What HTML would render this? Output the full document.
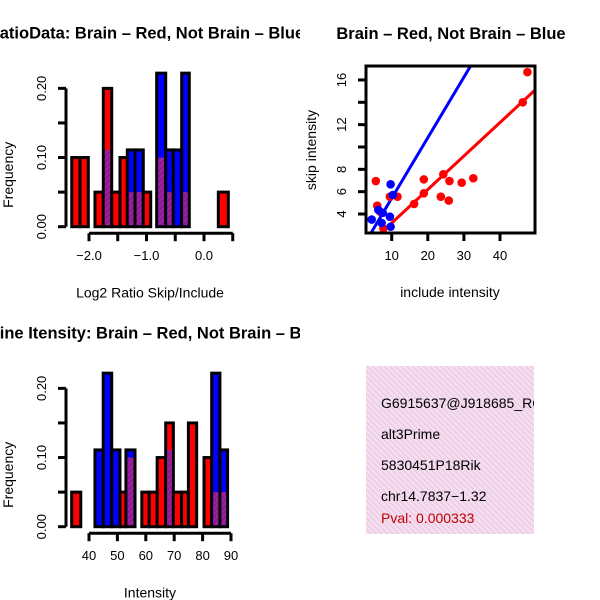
<!DOCTYPE html>
<html><head><meta charset="utf-8"><style>
body{margin:0;background:#fff}
svg{display:block;font-family:"Liberation Sans",sans-serif}
</style></head><body>
<svg id="c" width="600" height="600" viewBox="0 0 600 600">
<defs>
<pattern id="hatch" width="4" height="4" patternUnits="userSpaceOnUse" patternTransform="rotate(45)">
<rect width="4" height="4" fill="#a020a0"/><rect width="2" height="4" fill="#8a1a90"/></pattern>
<pattern id="pink" width="4" height="4" patternUnits="userSpaceOnUse" patternTransform="rotate(-45)">
<rect width="4" height="4" fill="#f7dcf2"/><rect width="1.3" height="4" fill="#e7cde0"/></pattern>
<clipPath id="sc"><rect x="366" y="66" width="169" height="167"/></clipPath>
<clipPath id="lp"><rect x="0" y="0" width="300" height="600"/></clipPath>
</defs>
<g id="g1" clip-path="url(#lp)"></g>
<g id="g2"></g>
<g id="g3" clip-path="url(#lp)"></g>
<g>
<rect x="366" y="366" width="168" height="168" fill="url(#pink)"/>
<text x="381" y="408" font-size="14">G6915637@J918685_RC</text>
<text x="381" y="439" font-size="14">alt3Prime</text>
<text x="381" y="470" font-size="14">5830451P18Rik</text>
<text x="381" y="501" font-size="14">chr14.7837−1.32</text>
<text x="381" y="523" font-size="14" fill="#c00000">Pval: 0.000333</text>
</g>
<rect x="534" y="360" width="66" height="180" fill="#fff"/>
</svg>
<script>
const NS="http://www.w3.org/2000/svg";
function mk(p,t,a){const e=document.createElementNS(NS,t);for(const k in a)e.setAttribute(k,a[k]);p.appendChild(e);return e;}
// ratio histogram data
const ratioEdges=[[-2.30,-2.157],[-2.157,-2.012],[-1.896,-1.751],[-1.751,-1.605],[-1.605,-1.461],[-1.461,-1.334],[-1.334,-1.2],[-1.2,-1.056],[-1.056,-0.927],[-0.823,-0.666],[-0.666,-0.534],[-0.534,-0.388],[-0.388,-0.256],[-0.256,0.249],[0.249,0.423]];
const ratioRed=[0.10,0.10,0.05,0.20,0.05,0.10,0.05,0.05,0.05,0.10,0.05,0,0.05,0,0.05];
const ratioBlue=[0,0,0,0.111,0,0,0.111,0.111,0,0.222,0.111,0.111,0.222,0,0];
const ratioTicks=[-2,-1.5,-1,-0.5,0,0.5];
const ratioTickLabels=["−2.0","","−1.0","","0.0",""];
// intensity histogram data
const intEdges=[[33.9,37.1],[37.1,42.1],[42.1,45.0],[45.0,48.0],[48.0,50.9],[50.9,53.0],[53.0,56.2],[56.2,58.6],[58.6,61.2],[61.2,64.0],[64.0,67.0],[67.0,69.7],[69.7,72.6],[72.6,75.0],[75.0,77.9],[77.9,80.5],[80.5,83.2],[83.2,86.1],[86.1,88.8]];
const intRed=[0.05,0,0,0,0,0.05,0.10,0,0.05,0.05,0.10,0.15,0.05,0.05,0.15,0,0.10,0.05,0.05];
const intBlue=[0,0,0.111,0.222,0.111,0,0.111,0,0,0,0,0.111,0,0,0,0,0,0.222,0.111];
const intTicks=[40,50,60,70,80,90];
const intTickLabels=["40","50","60","70","80","90"];
const freqTicks=[0,0.05,0.10,0.15,0.20];
const freqTickLabels=["0.00","","0.10","","0.20"];
// scatter data
const redInc=[5.6,6.0,6.8,7.7,9.5,11.6,16.2,18.9,18.9,23.6,24.3,25.8,26.0,29.4,32.6,46.3,47.6];
const redSkip=[6.95,4.75,4.2,2.7,5.55,5.55,4.9,7.1,5.85,5.55,7.55,5.2,6.95,6.8,7.2,14.0,16.7];
const blueInc=[4.46,6.3,7.2,9.5,9.7,10.3,9.7,7.5];
const blueSkip=[3.5,4.36,3.2,3.76,6.66,5.7,2.86,4.1];
const redFit=[0.19,0.30];
const blueFit=[-0.01,0.542];
const xTicksSc=[10,20,30,40];
const yTicksSc=[4,6,8,10,12,14,16];
const yTickLabelsSc=["4","6","8","","12","","16"];

function hist(g,edges,red,blue,xs,x0,ticks,labels,title,titleX,xlab){
  const ys=v=>x0.base-v*691.7;
  for(let i=0;i<edges.length;i++){
    const a=xs(edges[i][0]),b=xs(edges[i][1]);
    const hi=Math.max(red[i],blue[i]),lo=Math.min(red[i],blue[i]);
    const col=red[i]>=blue[i]?"#ff0000":"#0000ff";
    const r=mk(g,"rect",{x:a,y:ys(hi),width:b-a,height:ys(0)-ys(hi),fill:col,stroke:"#000","stroke-width":3});
    
    
    if(lo>0){const p=mk(g,"rect",{x:a+1.5,y:ys(lo),width:b-a-3,height:ys(0)-ys(lo)-1.5,fill:"url(#hatch)"});
      
      }
  }
  const ax=mk(g,"g",{});
  
  
  mk(ax,"line",{x1:66,x2:66,y1:ys(0),y2:ys(0.2),stroke:"#000","stroke-width":3});
  freqTicks.forEach((t,i)=>{mk(ax,"line",{x1:58,x2:66,y1:ys(t),y2:ys(t),stroke:"#000","stroke-width":3});
    if(freqTickLabels[i]){const tx=mk(ax,"text",{x:46,y:ys(t),"font-size":13,"text-anchor":"middle",transform:`rotate(-90 46 ${ys(t)})`});tx.textContent=freqTickLabels[i];}});
  const xa=mk(g,"g",{});
  
  
  const ay=ys(0)+6.5;
  mk(xa,"line",{x1:xs(ticks[0]),x2:xs(ticks[ticks.length-1]),y1:ay,y2:ay,stroke:"#000","stroke-width":3});
  ticks.forEach((t,i)=>{mk(xa,"line",{x1:xs(t),x2:xs(t),y1:ay,y2:ay+8,stroke:"#000","stroke-width":3});
    if(labels[i]){const tx=mk(xa,"text",{x:xs(t),y:ay+27,"font-size":13,"text-anchor":"middle"});tx.textContent=labels[i];}});
  const tt=mk(g,"text",{x:titleX,y:ys(0)-188,"font-size":16.5,"font-weight":"bold","text-anchor":"middle"});tt.textContent=title;
  
  
  const xl=mk(g,"text",{x:150,y:ys(0)+71,"font-size":14,"text-anchor":"middle"});xl.textContent=xlab;
  
  
  const yl=mk(g,"text",{x:13,y:ys(0.075),"font-size":14,"text-anchor":"middle",transform:`rotate(-90 13 ${ys(0.075)})`});yl.textContent="Frequency";
  
  
}
hist(document.getElementById("g1"),ratioEdges,ratioRed,ratioBlue,v=>204+57.5*v,{base:226.7},ratioTicks,ratioTickLabels,"RatioData: Brain – Red, Not Brain – Blue",146,"Log2 Ratio Skip/Include");
hist(document.getElementById("g3"),intEdges,intRed,intBlue,v=>89+(v-40)*2.84,{base:526.7},intTicks,intTickLabels,"Exon Line Itensity: Brain – Red, Not Brain – Blue",135,"Intensity");

// scatter
const g2=document.getElementById("g2");
const sx=v=>391.7+(v-10)*3.61, sy=v=>214-(v-4)*11.17;
const cl=mk(g2,"g",{"clip-path":"url(#sc)"});
[[redFit,"#ff0000"],[blueFit,"#0000ff"]].forEach(([f,c])=>{
  const l=mk(cl,"line",{x1:sx(0),y1:sy(f[0]),x2:sx(60),y2:sy(f[0]+f[1]*60),stroke:c,"stroke-width":3});
  
  });
redInc.forEach((v,i)=>{const c=mk(cl,"circle",{cx:sx(v),cy:sy(redSkip[i]),r:4.3,fill:"#ff0000"});
  
  });
blueInc.forEach((v,i)=>{const c=mk(cl,"circle",{cx:sx(v),cy:sy(blueSkip[i]),r:4.3,fill:"#0000ff"});
  
  });
const box=mk(g2,"rect",{x:366,y:66,width:169,height:167,fill:"none",stroke:"#000","stroke-width":3});


xTicksSc.forEach(t=>{mk(g2,"line",{x1:sx(t),x2:sx(t),y1:233,y2:241,stroke:"#000","stroke-width":3});
  const tx=mk(g2,"text",{x:sx(t),y:260,"font-size":13,"text-anchor":"middle"});tx.textContent=t;});
yTicksSc.forEach((t,i)=>{mk(g2,"line",{x1:358,x2:366,y1:sy(t),y2:sy(t),stroke:"#000","stroke-width":3});
  if(yTickLabelsSc[i]){const tx=mk(g2,"text",{x:346,y:sy(t),"font-size":13,"text-anchor":"middle",transform:`rotate(-90 346 ${sy(t)})`});tx.textContent=yTickLabelsSc[i];}});
const st=mk(g2,"text",{x:451,y:39,"font-size":16.5,"font-weight":"bold","text-anchor":"middle"});st.textContent="Brain – Red, Not Brain – Blue";


const sxl=mk(g2,"text",{x:450,y:297,"font-size":14,"text-anchor":"middle"});sxl.textContent="include intensity";


const syl=mk(g2,"text",{x:316,y:150,"font-size":14,"text-anchor":"middle",transform:"rotate(-90 316 150)"});syl.textContent="skip intensity";


</script>
</body></html>
